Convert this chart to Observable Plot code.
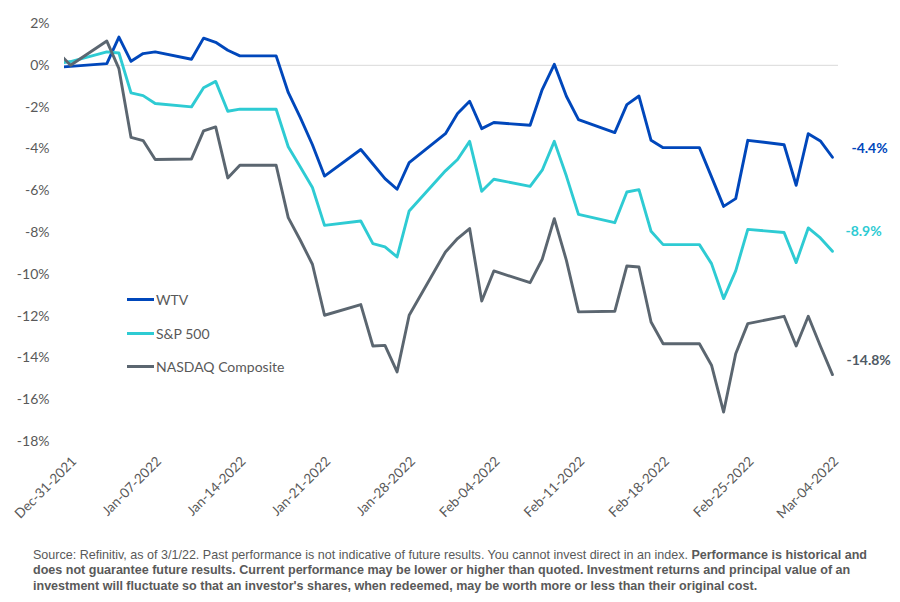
<!DOCTYPE html>
<html>
<head>
<meta charset="utf-8">
<script src="https://cdn.jsdelivr.net/npm/d3@7"></script>
<script src="https://cdn.jsdelivr.net/npm/@observablehq/plot@0.6"></script>
<style>
  body { margin: 0; background: #fff; }
  #wrap { position: relative; width: 900px; height: 602px; overflow: hidden; background: #fff; }
  #chart { position: absolute; left: 0; top: 0; }
  #legend { position: absolute; left: 127px; top: 283px; font-family: Lato, sans-serif; font-size: 14px; color: #595959; }
  #legend .item { height: 33.6px; display: flex; align-items: center; white-space: nowrap; }
  #legend .sw { display: inline-block; width: 27px; height: 3px; margin-right: 2px; }
  #caption { position: absolute; left: 33px; top: 546.5px; font-family: "Liberation Sans Narrow", "Arial Narrow", "Liberation Sans", Arial, sans-serif; font-size: 13px; line-height: 15.5px; color: #595959; transform-origin: 0 0; white-space: nowrap; }
  #caption b { font-weight: bold; }
  #caption span.line { display: inline-block; }
</style>
</head>
<body>
<div id="wrap">
  <div id="chart"></div>
  <div id="legend"></div>
  <div id="caption">
    <span class="line" id="l1">Source: Refinitiv, as of 3/1/22. Past performance is not indicative of future results. You cannot invest direct in an index. <b>Performance is historical and</b></span><br>
    <span class="line"><b>does not guarantee future results. Current performance may be lower or higher than quoted. Investment returns and principal value of an</b></span><br>
    <span class="line"><b>investment will fluctuate so that an investor's shares, when redeemed, may be worth more or less than their original cost.</b></span>
  </div>
</div>
<script>
// ---- data ----
const dates = [
  "2021-12-30","2021-12-31",
  "2022-01-03","2022-01-04","2022-01-05","2022-01-06","2022-01-07",
  "2022-01-10","2022-01-11","2022-01-12","2022-01-13","2022-01-14",
  "2022-01-17","2022-01-18","2022-01-19","2022-01-20","2022-01-21",
  "2022-01-24","2022-01-25","2022-01-26","2022-01-27","2022-01-28",
  "2022-01-31","2022-02-01","2022-02-02","2022-02-03","2022-02-04",
  "2022-02-07","2022-02-08","2022-02-09","2022-02-10","2022-02-11",
  "2022-02-14","2022-02-15","2022-02-16","2022-02-17","2022-02-18",
  "2022-02-21","2022-02-22","2022-02-23","2022-02-24","2022-02-25",
  "2022-02-28","2022-03-01","2022-03-02","2022-03-03","2022-03-04"
];
const wtv = [
  -0.1, -0.05,
  0.08, 1.35, 0.19, 0.56, 0.64,
  0.29, 1.3, 1.1, 0.72, 0.45,
  0.45, -1.3, -2.5, -3.8, -5.3,
  -4.03, -4.72, -5.42, -5.93, -4.66,
  -3.27, -2.31, -1.72, -3.03, -2.74,
  -2.87, -1.16, 0.05, -1.48, -2.6,
  -3.22, -1.88, -1.47, -3.59, -3.94,
  -3.94, -5.34, -6.75, -6.38, -3.59,
  -3.8, -5.74, -3.27, -3.62, -4.4
];
const sp500 = [
  0.1, 0.18,
  0.64, 0.59, -1.32, -1.45, -1.83,
  -1.99, -1.07, -0.77, -2.2, -2.1,
  -2.1, -3.9, -4.87, -5.85, -7.66,
  -7.45, -8.53, -8.69, -9.17, -6.97,
  -5.05, -4.51, -3.64, -6.03, -5.45,
  -5.79, -5.02, -3.64, -5.3, -7.13,
  -7.53, -6.06, -5.95, -7.94, -8.58,
  -8.58, -9.49, -11.16, -9.84, -7.85,
  -8.0, -9.44, -7.78, -8.26, -8.9
];
const nasdaq = [
  0.6, 0.0,
  1.16, -0.16, -3.45, -3.6, -4.51,
  -4.48, -3.14, -2.95, -5.39, -4.78,
  -4.78, -7.29, -8.37, -9.52, -11.96,
  -11.45, -13.43, -13.4, -14.67, -11.96,
  -8.93, -8.29, -7.81, -11.28, -9.84,
  -10.4, -9.28, -7.34, -9.33, -11.8,
  -11.77, -9.6, -9.65, -12.28, -13.32,
  -13.32, -14.35, -16.59, -13.8, -12.36,
  -12.01, -13.43, -12.01, -13.43, -14.8
];
const seriesNames = ["WTV", "S&P 500", "NASDAQ Composite"];
const endLabels = ["-4.4%", "-8.9%", "-14.8%"];
const xTickDates = ["2021-12-31","2022-01-07","2022-01-14","2022-01-21","2022-01-28",
                    "2022-02-04","2022-02-11","2022-02-18","2022-02-25","2022-03-04"];
const yTicks = [-18, -16, -14, -12, -10, -8, -6, -4, -2, 0, 2];

// ---- styles ----
const seriesColors = ["#0047bb", "#2ecbd3", "#5b6670"];
const labelColors = ["#0047bb", "#2ecbd3", "#4f5a64"];
const labelDx = [19, 13, 14];
const labelDy = [-9, -20, -14];

const allValues = [wtv, sp500, nasdaq];
const parse = s => new Date(s + "T00:00:00Z");
const rows = [];
allValues.forEach((vals, i) => {
  vals.forEach((v, j) => rows.push({date: parse(dates[j]), value: v, series: seriesNames[i]}));
});
const lastRows = allValues.map((vals, i) => ({
  date: parse(dates[dates.length - 1]), value: vals[vals.length - 1], series: seriesNames[i], label: endLabels[i]
}));

const fmt = d3.utcFormat("%b-%d-%Y");

const chart = Plot.plot({
  width: 900,
  height: 530,
  marginLeft: 64,
  marginRight: 62,
  marginTop: 23,
  marginBottom: 89,
  style: {fontFamily: "Lato, sans-serif", fontSize: "14px", color: "#595959", background: "white"},
  x: {type: "utc", domain: [new Date(Date.UTC(2021, 11, 30, 12)), new Date(Date.UTC(2022, 2, 4, 12))]},
  y: {domain: [-18, 2]},
  color: {domain: seriesNames, range: seriesColors},
  marks: [
    Plot.ruleY([0], {stroke: "#d9d9d9", strokeWidth: 1}),
    Plot.axisY(yTicks, {tickSize: 0, tickPadding: 15, tickFormat: d => `${d}%`, fontSize: 14, fill: "#595959", label: null}),
    Plot.axisX(xTickDates.map(parse), {tickSize: 0, tickRotate: -45, tickPadding: 14, tickFormat: fmt, fontSize: 13.5, fill: "#595959", label: null, textAnchor: "end", lineAnchor: "top"}),
    Plot.line(rows, {x: "date", y: "value", z: "series", stroke: "series", strokeWidth: 2.9, strokeLinejoin: "round", clip: true}),
    ...lastRows.map((r, i) => Plot.text([r], {
      x: "date", y: "value", text: "label", fill: labelColors[i],
      dx: labelDx[i], dy: labelDy[i], textAnchor: "start", fontWeight: "bold", fontSize: 14
    }))
  ]
});
document.getElementById("chart").appendChild(chart);

// legend (HTML overlay)
const legend = document.getElementById("legend");
seriesNames.forEach((name, i) => {
  const item = document.createElement("div");
  item.className = "item";
  const sw = document.createElement("span");
  sw.className = "sw";
  sw.style.background = seriesColors[i];
  item.appendChild(sw);
  item.appendChild(document.createTextNode(name));
  legend.appendChild(item);
});

// fit caption width to the reference line length
const cap = document.getElementById("caption");
const w = document.getElementById("l1").getBoundingClientRect().width;
if (w > 0) cap.style.transform = `scaleX(${834 / w})`;
</script>
</body>
</html>
